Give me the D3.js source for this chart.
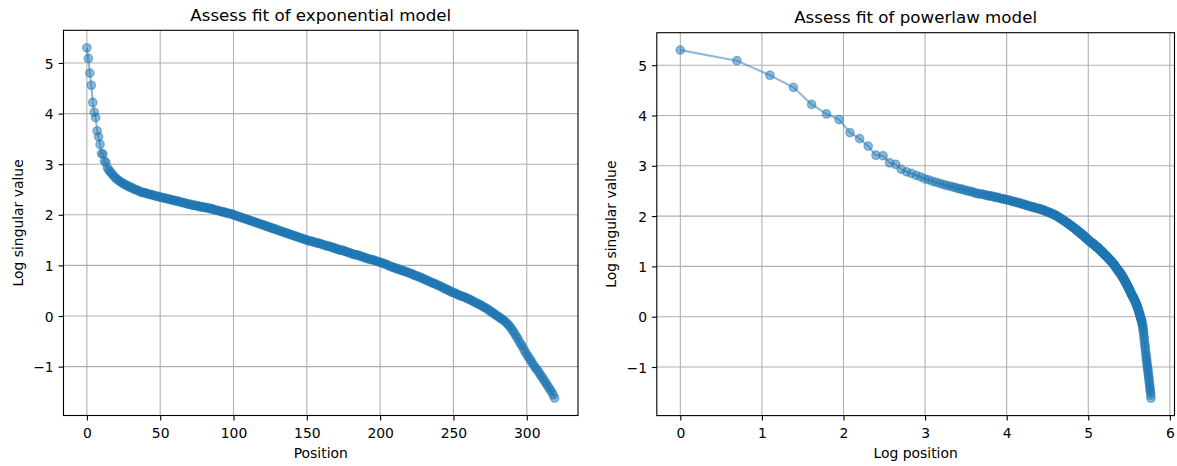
<!DOCTYPE html>
<html>
<head>
<meta charset="utf-8">
<script src="https://cdn.jsdelivr.net/npm/d3@7"></script>
<style>
    body { margin: 0; background: #fff; }
    svg { display: block; font-family: "DejaVu Sans", sans-serif; }
    .grid line { stroke: #b0b0b0; stroke-width: 1.1px; }
    .axis path { display: none; }
    .axis line { stroke: #000; stroke-width: 1.1px; }
    .axis text { fill: #000; font-size: 13.9px; font-family: "DejaVu Sans", sans-serif; }
</style>
</head>
<body>
<div class="viz"></div>
<script>
// log singular values, position 0..319
const logSingular = [
    5.30, 5.09, 4.80, 4.56, 4.22, 4.03, 3.92, 3.66, 3.54, 3.39,
    3.21, 3.20, 3.06, 3.03, 2.93, 2.88, 2.85, 2.81, 2.78, 2.74,
    2.72, 2.69, 2.67, 2.65, 2.63, 2.61, 2.60, 2.58, 2.57, 2.55,
    2.54, 2.53, 2.51, 2.50, 2.49, 2.48, 2.46, 2.45, 2.44, 2.44,
    2.43, 2.42, 2.41, 2.40, 2.40, 2.39, 2.38, 2.37, 2.37, 2.36,
    2.35, 2.34, 2.34, 2.33, 2.32, 2.32, 2.31, 2.30, 2.29, 2.29,
    2.28, 2.27, 2.27, 2.26, 2.25, 2.24, 2.24, 2.23, 2.22, 2.21,
    2.21, 2.20, 2.19, 2.19, 2.18, 2.18, 2.17, 2.16, 2.16, 2.15,
    2.15, 2.14, 2.14, 2.13, 2.12, 2.12, 2.11, 2.10, 2.09, 2.09,
    2.08, 2.07, 2.06, 2.06, 2.05, 2.04, 2.03, 2.03, 2.02, 2.01,
    2.00, 1.99, 1.98, 1.97, 1.96, 1.95, 1.94, 1.93, 1.92, 1.91,
    1.90, 1.89, 1.88, 1.87, 1.86, 1.85, 1.84, 1.83, 1.82, 1.81,
    1.80, 1.79, 1.78, 1.77, 1.76, 1.75, 1.74, 1.73, 1.72, 1.71,
    1.70, 1.69, 1.68, 1.67, 1.66, 1.65, 1.64, 1.63, 1.62, 1.61,
    1.60, 1.59, 1.58, 1.57, 1.56, 1.55, 1.54, 1.53, 1.52, 1.51,
    1.50, 1.49, 1.48, 1.48, 1.47, 1.46, 1.45, 1.44, 1.44, 1.43,
    1.42, 1.41, 1.40, 1.39, 1.38, 1.38, 1.37, 1.36, 1.35, 1.34,
    1.33, 1.32, 1.31, 1.30, 1.30, 1.29, 1.28, 1.27, 1.26, 1.25,
    1.24, 1.23, 1.22, 1.21, 1.21, 1.20, 1.19, 1.18, 1.17, 1.16,
    1.15, 1.14, 1.13, 1.12, 1.12, 1.11, 1.10, 1.09, 1.08, 1.07,
    1.06, 1.05, 1.04, 1.03, 1.02, 1.01, 0.99, 0.98, 0.97, 0.96,
    0.95, 0.94, 0.93, 0.92, 0.91, 0.90, 0.89, 0.88, 0.87, 0.86,
    0.85, 0.84, 0.83, 0.81, 0.80, 0.79, 0.78, 0.77, 0.76, 0.74,
    0.73, 0.72, 0.70, 0.69, 0.68, 0.66, 0.65, 0.64, 0.63, 0.61,
    0.60, 0.59, 0.57, 0.56, 0.54, 0.53, 0.52, 0.50, 0.49, 0.47,
    0.46, 0.45, 0.44, 0.42, 0.41, 0.40, 0.39, 0.38, 0.37, 0.35,
    0.34, 0.33, 0.31, 0.30, 0.28, 0.27, 0.25, 0.24, 0.22, 0.21,
    0.19, 0.17, 0.16, 0.14, 0.12, 0.10, 0.08, 0.06, 0.04, 0.02,
    0.00, -0.02, -0.04, -0.06, -0.08, -0.10, -0.13, -0.16, -0.19, -0.23,
    -0.27, -0.31, -0.36, -0.41, -0.45, -0.51, -0.56, -0.60, -0.66, -0.71,
    -0.76, -0.80, -0.85, -0.89, -0.94, -0.98, -1.03, -1.06, -1.10, -1.15,
    -1.19, -1.23, -1.28, -1.32, -1.37, -1.41, -1.46, -1.50, -1.56, -1.62
];

const positions = logSingular.map((v, i) => i);
const logPositions = positions.map(p => Math.log(p + 1));

const xTicksExp = [0, 50, 100, 150, 200, 250, 300];
const xTicksPow = [0, 1, 2, 3, 4, 5, 6];
const yTicks = [-1, 0, 1, 2, 3, 4, 5];

const titles = ["Assess fit of exponential model", "Assess fit of powerlaw model"];
const xLabels = ["Position", "Log position"];
const yLabel = "Log singular value";

var width = 1177, height = 466;
var color = "#1f77b4";

var svg = d3.select('.viz').append('svg')
    .attr('width', width)
    .attr('height', height);

svg.append('rect')
    .attr('width', width)
    .attr('height', height)
    .attr('fill', '#fff');

// matplotlib style 5% padding around the data
function padded(vals) {
    let ext = d3.extent(vals), pad = (ext[1] - ext[0]) * 0.05;
    return [ext[0] - pad, ext[1] + pad];
}

function fmt(d) {
    return d < 0 ? "\u2212" + Math.abs(d) : "" + d;
}

function drawPanel(box, xs, ys, xTicks, title, xLabel) {
    let x = d3.scaleLinear().domain(padded(xs)).range([box.left, box.right]);
    let y = d3.scaleLinear().domain(padded(ys)).range([box.bottom, box.top]);

    let g = svg.append('g');

    // grid
    let grid = g.append('g').attr('class', 'grid');
    grid.selectAll('.gx').data(xTicks).enter().append('line')
        .attr('x1', d => x(d)).attr('x2', d => x(d))
        .attr('y1', box.top).attr('y2', box.bottom);
    grid.selectAll('.gy').data(yTicks).enter().append('line')
        .attr('x1', box.left).attr('x2', box.right)
        .attr('y1', d => y(d)).attr('y2', d => y(d));

    let pts = xs.map((v, i) => [v, ys[i]]);

    g.append('path')
        .datum(pts)
        .attr('fill', 'none')
        .attr('stroke', color)
        .attr('stroke-opacity', 0.5)
        .attr('stroke-width', 2.08)
        .attr('stroke-linejoin', 'round')
        .attr('d', d3.line().x(d => x(d[0])).y(d => y(d[1])));

    g.append('g')
        .selectAll('circle')
        .data(pts)
        .enter().append('circle')
        .attr('cx', d => x(d[0]))
        .attr('cy', d => y(d[1]))
        .attr('r', 4.17)
        .attr('fill', color)
        .attr('fill-opacity', 0.5)
        .attr('stroke', color)
        .attr('stroke-opacity', 0.5)
        .attr('stroke-width', 1.39);

    // spines
    g.append('rect')
        .attr('x', box.left).attr('y', box.top)
        .attr('width', box.right - box.left)
        .attr('height', box.bottom - box.top)
        .attr('fill', 'none')
        .attr('stroke', '#000')
        .attr('stroke-width', 1.1);

    let xAxis = g.append('g')
        .attr('class', 'axis')
        .attr('transform', 'translate(0,' + box.bottom + ')')
        .call(d3.axisBottom(x).tickValues(xTicks).tickFormat(fmt).tickSize(4.9).tickPadding(4.9));
    xAxis.selectAll('text').attr('dy', '0.93em');

    let yAxis = g.append('g')
        .attr('class', 'axis')
        .attr('transform', 'translate(' + box.left + ',0)')
        .call(d3.axisLeft(y).tickValues(yTicks).tickFormat(fmt).tickSize(4.9).tickPadding(4.9));
    yAxis.selectAll('text').attr('dy', '0.36em');

    let cx = (box.left + box.right) / 2;
    g.append('text')
        .attr('x', cx).attr('y', box.top - 9.6)
        .attr('text-anchor', 'middle')
        .attr('font-size', 16.7)
        .attr('fill', '#000')
        .text(title);

    g.append('text')
        .attr('x', cx).attr('y', box.bottom + 42)
        .attr('text-anchor', 'middle')
        .attr('font-size', 13.9)
        .attr('fill', '#000')
        .text(xLabel);

    let cy = (box.top + box.bottom) / 2;
    g.append('text')
        .attr('transform', 'translate(' + (box.left - 40.5) + ',' + cy + ')rotate(-90)')
        .attr('text-anchor', 'middle')
        .attr('font-size', 13.9)
        .attr('fill', '#000')
        .text(yLabel);
}

drawPanel({left: 63.5, right: 578, top: 30.3, bottom: 415.5},
    positions, logSingular, xTicksExp, titles[0], xLabels[0]);
drawPanel({left: 656.8, right: 1174.5, top: 32.7, bottom: 415.6},
    logPositions, logSingular, xTicksPow, titles[1], xLabels[1]);
</script>
</body>
</html>
